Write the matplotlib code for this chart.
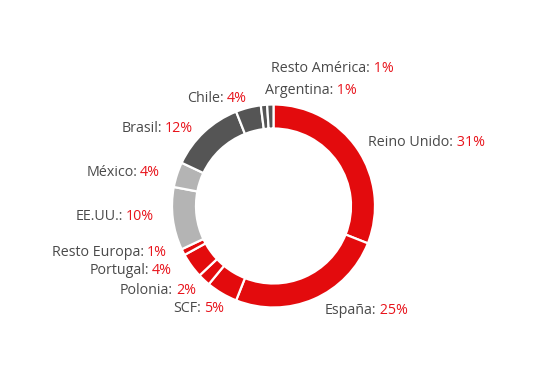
import matplotlib.pyplot as plt

regions = ["Reino Unido", "España", "SCF", "Polonia", "Portugal", "Resto Europa",
           "EE.UU.", "México", "Brasil", "Chile", "Argentina", "Resto América"]
shares = [31, 25, 5, 2, 4, 1, 10, 4, 12, 4, 1, 1]
groups = ["eu", "eu", "eu", "eu", "eu", "eu", "us", "us", "la", "la", "la", "la"]

group_colors = {"eu": "#e30b0d", "us": "#b4b4b4", "la": "#555555"}
# label anchor (x px, y px from top, alignment)
label_pos = [(368, 142, "left"), (325, 310, "left"), (224, 309, "right"),
             (196, 290, "right"), (172, 271, "right"), (167, 253, "right"),
             (154, 216, "right"), (160, 173, "right"), (193, 129, "right"),
             (247, 99, "right"), (265, 90, "left"), (271, 69, "left")]

W, H = 540, 385
fig = plt.figure(figsize=(W / 100, H / 100), dpi=100)
ax = fig.add_axes([0, 0, 1, 1])

cx, cy, R = 273.5, H - 206, 101.5
ax.pie(shares, colors=[group_colors[g] for g in groups], startangle=90,
       counterclock=False, center=(cx, cy), radius=R, frame=True,
       wedgeprops=dict(width=24, edgecolor="white", linewidth=1.6))
ax.set_xlim(0, W)
ax.set_ylim(0, H)
ax.axis("off")

font = dict(family=["Open Sans", "DejaVu Sans"], fontsize=10.3)
name_c, pct_c = "#4a4a4a", "#e8141c"
for name, val, (x, y, ha) in zip(regions, shares, label_pos):
    yy = H - y
    if ha == "left":
        t = ax.text(x, yy, name + ":", color=name_c, ha="left", va="center", **font)
        ax.annotate(f" {val}%", xy=(1, 0), xycoords=t, ha="left", va="bottom",
                    color=pct_c, **font)
    else:
        t = ax.text(x, yy, f"{val}%", color=pct_c, ha="right", va="center", **font)
        ax.annotate(name + ":", xy=(0, 0), xycoords=t, ha="right", va="bottom",
                    xytext=(-3, 0), textcoords="offset pixels",
                    color=name_c, **font)

fig.savefig("out.png", dpi=100)
